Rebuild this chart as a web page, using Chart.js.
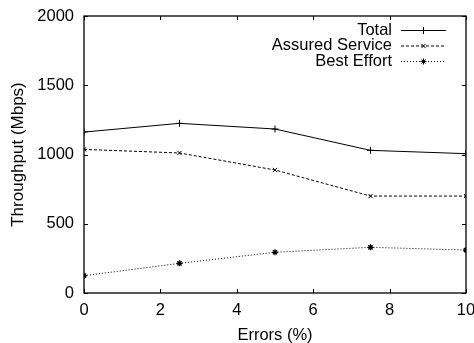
<!DOCTYPE html>
<html>
<head>
<meta charset="utf-8">
<script src="https://cdn.jsdelivr.net/npm/chart.js@4/dist/chart.umd.min.js"></script>
<style>
  html, body { margin: 0; padding: 0; background: #fff; }
  #wrap { width: 474px; height: 343px; }
</style>
</head>
<body>
<div id="wrap"><canvas id="myChart" width="474" height="343"></canvas></div>
<script>
// data
var errors = [0, 2.5, 5, 7.5, 10];
var total = [1162, 1225, 1184, 1030, 1006];
var assured = [1037, 1011, 888, 700, 700];
var bestEffort = [125, 214, 294, 330, 310];
var seriesNames = ['Total', 'Assured Service', 'Best Effort'];
var xTicks = [0, 2, 4, 6, 8, 10];
var yTicks = [0, 500, 1000, 1500, 2000];

var FONT = '"Liberation Sans", Arial, Helvetica, sans-serif';

function pts(ys) {
    return errors.map(function (x, i) { return { x: x, y: ys[i] }; });
}

var datasets = [{
    label: seriesNames[0],
    data: pts(total),
    borderColor: '#000',
    borderWidth: 1,
    tension: 0,
    pointStyle: 'cross',
    pointRadius: 3.5,
    pointBorderWidth: 1,
    pointBorderColor: '#000',
    borderDash: []
}, {
    label: seriesNames[1],
    data: pts(assured),
    borderColor: '#000',
    borderWidth: 1,
    tension: 0,
    pointStyle: 'crossRot',
    pointRadius: 3,
    pointBorderWidth: 1,
    pointBorderColor: '#000',
    borderDash: [3, 2]
}, {
    label: seriesNames[2],
    data: pts(bestEffort),
    borderColor: '#000',
    borderWidth: 1,
    tension: 0,
    pointStyle: 'star',
    pointRadius: 3,
    pointBorderWidth: 1.3,
    pointBorderColor: '#000',
    borderDash: [1, 2]
}];

// gnuplot style frame, inward ticks and legend in the top right corner
var framePlugin = {
    id: 'frame',
    afterDraw: function (chart) {
        var ctx = chart.ctx;
        var a = chart.chartArea;
        var xs = chart.scales.x, ys = chart.scales.y;
        var t = 4;
        ctx.save();
        ctx.strokeStyle = '#000';
        ctx.lineWidth = 1.3;
        ctx.strokeRect(a.left, a.top, a.right - a.left, a.bottom - a.top);
        ctx.lineWidth = 1;
        ctx.beginPath();
        xTicks.forEach(function (v) {
            var px = Math.round(xs.getPixelForValue(v)) + 0.5;
            ctx.moveTo(px, a.bottom); ctx.lineTo(px, a.bottom - t);
            ctx.moveTo(px, a.top); ctx.lineTo(px, a.top + t);
        });
        yTicks.forEach(function (v) {
            var py = Math.round(ys.getPixelForValue(v)) + 0.5;
            ctx.moveTo(a.left, py); ctx.lineTo(a.left + t, py);
            ctx.moveTo(a.right, py); ctx.lineTo(a.right - t, py);
        });
        ctx.stroke();

        // legend
        ctx.font = '16.5px ' + FONT;
        ctx.fillStyle = '#000';
        ctx.textAlign = 'right';
        ctx.textBaseline = 'middle';
        var rowY = [30, 45.5, 61];
        var tx = 392, l0 = 401, l1 = 446;
        chart.data.datasets.forEach(function (ds, i) {
            var y = rowY[i];
            ctx.fillText(ds.label, tx, y);
            ctx.setLineDash(ds.borderDash);
            ctx.beginPath();
            ctx.moveTo(l0, y + 0.5); ctx.lineTo(l1, y + 0.5);
            ctx.stroke();
            ctx.setLineDash([]);
            Chart.helpers.drawPoint(ctx, {
                pointStyle: ds.pointStyle,
                radius: ds.pointRadius,
                borderWidth: ds.pointBorderWidth,
                rotation: 0
            }, (l0 + l1) / 2, y + 0.5);
        });
        ctx.restore();
    }
};

var tickFont = { family: FONT, size: 16.5 };

var options = {
    responsive: false,
    animation: false,
    layout: { padding: { left: 0, right: 8, top: 16, bottom: 0 } },
    plugins: {
        legend: { display: false },
        tooltip: { enabled: false }
    },
    scales: {
        x: {
            type: 'linear',
            min: 0,
            max: 10,
            afterBuildTicks: function (s) { s.ticks = xTicks.map(function (v) { return { value: v }; }); },
            afterFit: function (s) { s.height = 50; s.paddingLeft = 0; s.paddingRight = 0; },
            grid: { display: false, drawTicks: false },
            border: { display: false },
            ticks: {
                color: '#000', padding: 8, maxRotation: 0, font: tickFont,
                callback: function (v) { return String(v); }
            },
            title: {
                display: true,
                text: 'Errors (%)',
                color: '#000',
                padding: { top: 0, bottom: -2 },
                font: tickFont
            }
        },
        y: {
            min: 0,
            max: 2000,
            afterBuildTicks: function (s) { s.ticks = yTicks.map(function (v) { return { value: v }; }); },
            afterFit: function (s) { s.width = 84; s.paddingTop = 0; s.paddingBottom = 0; },
            grid: { display: false, drawTicks: false },
            border: { display: false },
            ticks: {
                color: '#000', padding: 10, font: tickFont,
                callback: function (v) { return String(v); }
            },
            title: {
                display: true,
                text: 'Throughput (Mbps)',
                color: '#000',
                padding: { top: 8, bottom: 0 },
                font: { family: FONT, size: 17 }
            }
        }
    }
};

var ctx = document.getElementById('myChart').getContext('2d');
var myChart = new Chart(ctx, {
    type: 'line',
    data: { datasets: datasets },
    options: options,
    plugins: [framePlugin]
});
</script>
</body>
</html>
